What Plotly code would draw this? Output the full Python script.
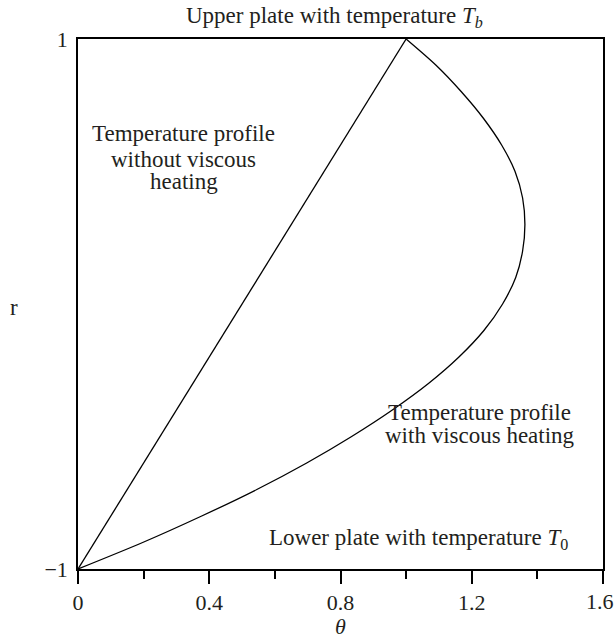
import plotly.graph_objects as go

# Temperature profile without viscous heating (straight line)
theta_no_heat = [0.0, 1.0]
r_no_heat = [-1.0, 1.0]

# Temperature profile with viscous heating
r_heat = [-1.0, -0.9, -0.8, -0.7, -0.6, -0.5, -0.4, -0.3, -0.2, -0.1, 0.0,
          0.1, 0.2, 0.3, 0.4, 0.5, 0.6, 0.7, 0.8, 0.9, 1.0]
theta_heat = [0.0, 0.197, 0.377, 0.545, 0.697, 0.834, 0.958, 1.068, 1.161, 1.237, 1.294,
              1.334, 1.355, 1.362, 1.355, 1.332, 1.291, 1.236, 1.169, 1.092, 1.0]

x_tick_vals = [0, 0.4, 0.8, 1.2, 1.6]
x_tick_text = ["0", "0.4", "0.8", "1.2", ""]
x_edge_label = "1.6"
y_tick_vals = [-1, 1]
y_tick_text = ["\u22121", "1"]

FONT = "Liberation Serif"
TXT = "#231f20"
SZ = 23

fig = go.Figure()
fig.add_trace(go.Scatter(x=theta_no_heat, y=r_no_heat, mode="lines",
                         line=dict(color="black", width=1.3), showlegend=False))
fig.add_trace(go.Scatter(x=theta_heat, y=r_heat, mode="lines",
                         line=dict(color="black", width=1.3, shape="spline", smoothing=0.8),
                         showlegend=False))

ann = []
def add(text, x, y, size=SZ):
    ann.append(dict(text=text, x=x, y=y, xref="paper", yref="paper", showarrow=False,
                    xanchor="center", yanchor="middle",
                    font=dict(family=FONT, size=size, color=TXT)))

add("Upper plate with temperature <i>T</i><sub><i>b</i></sub>", 0.489, 1.042)
add("Temperature profile", 0.2015, 0.822)
add("without viscous", 0.2015, 0.7726)
add("heating", 0.2015, 0.7308)
add("Temperature profile", 0.7656, 0.2953)
add("with viscous heating", 0.7656, 0.2513)
add("Lower plate with temperature <i>T</i><sub>0</sub>", 0.6493, 0.0566)
add("r", (14 - 78.3) / 524.7, (569 - 307) / 530)
# edge tick label (would be hidden by plotly at the figure border)
ann.append(dict(text=x_edge_label, x=x_tick_vals[-1], xref="x", y=(569 - 601) / 530,
                yref="paper", showarrow=False, xanchor="center", yanchor="middle",
                xshift=-3, font=dict(family=FONT, size=22, color=TXT)))

fig.update_layout(
    width=615, height=639,
    margin=dict(l=78, r=12, t=39, b=70),
    paper_bgcolor="white", plot_bgcolor="white",
    font=dict(family=FONT, size=22, color=TXT),
    annotations=ann,
    xaxis=dict(range=[0, 1.6], tickmode="array", tickvals=x_tick_vals, ticktext=x_tick_text,
               ticks="outside", ticklen=13, tickwidth=1.5, tickcolor="black",
               minor=dict(tick0=0, dtick=0.2, ticks="outside", ticklen=8, tickwidth=1.5,
                          tickcolor="black"),
               showline=True, linecolor="black", linewidth=1.5, mirror=True,
               showgrid=False, zeroline=False, automargin=False,
               tickfont=dict(size=22),
               title=dict(text="<i>θ</i>", standoff=4, font=dict(size=22))),
    yaxis=dict(range=[-1, 1], tickmode="array", tickvals=y_tick_vals, ticktext=y_tick_text,
               ticks="", showline=True, linecolor="black", linewidth=1.5, mirror=True,
               showgrid=False, zeroline=False, ticklabelstandoff=4, automargin=False,
               tickfont=dict(size=22)),
)

fig.write_html("out.html", config={"displayModeBar": False},
               post_script="document.body.style.margin='0';")
